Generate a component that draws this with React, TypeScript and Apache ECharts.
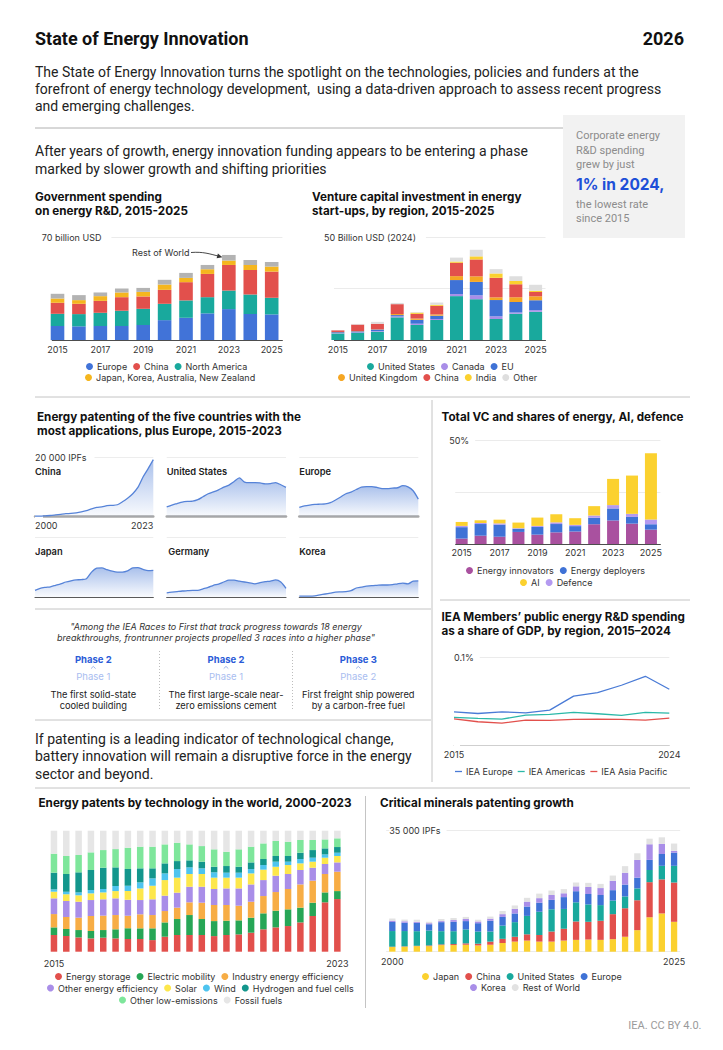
import React, { useEffect, useRef } from 'react';
import * as echarts from 'echarts';

const FONT = "Inter, 'Noto Sans', sans-serif";
const BODY = "Roboto, 'Noto Sans', sans-serif";

// ---------- Government spending on energy R&D (billion USD) ----------
const govYears = ['2015', '2016', '2017', '2018', '2019', '2020', '2021', '2022', '2023', '2024', '2025'];
const govEurope = [9.5, 9.3, 9.5, 9.5, 10.2, 13.5, 15.1, 18.1, 21.0, 17.6, 17.4];
const govNorthAmerica = [8.3, 8.3, 9.0, 10.4, 11.0, 11.1, 11.8, 11.0, 12.6, 13.3, 11.3];
const govChina = [7.5, 7.0, 8.1, 9.2, 8.4, 9.5, 12.4, 15.8, 17.4, 16.7, 17.8];
const govJapanKorea = [2.9, 2.5, 3.2, 3.2, 3.1, 3.6, 2.9, 3.2, 3.0, 3.4, 3.4];
const govRestOfWorld = [3.2, 3.4, 2.5, 2.7, 2.7, 3.2, 3.4, 2.9, 3.8, 3.4, 3.1];

// ---------- Venture capital in energy start-ups (billion USD 2024) ----------
const vcYears = ['2015', '2016', '2017', '2018', '2019', '2020', '2021', '2022', '2023', '2024', '2025'];
const vcUS = [3.2, 3.5, 4.0, 11.0, 7.3, 9.7, 21.3, 19.8, 10.2, 12.7, 13.7];
const vcCanada = [0.2, 0.2, 0.3, 0.5, 0.6, 0.5, 1.0, 1.9, 1.3, 0.6, 0.8];
const vcEU = [0.4, 0.5, 0.8, 0.6, 1.9, 1.6, 6.8, 6.5, 7.9, 5.2, 4.8];
const vcUK = [0.1, 0.1, 0.1, 0.5, 0.6, 0.6, 1.9, 2.7, 1.3, 2.3, 1.9];
const vcChina = [0.8, 3.2, 2.7, 4.8, 2.3, 4.2, 6.5, 8.2, 9.5, 6.3, 2.1];
const vcIndia = [0, 0, 0, 0, 0.6, 0.5, 0.6, 1.5, 2.1, 1.6, 0.6];
const vcOther = [0.1, 0.3, 0.9, 0.6, 0.3, 1.1, 1.9, 3.2, 2.1, 2.3, 2.9];

// ---------- Energy patenting small multiples (thousand IPFs) ----------
const patYears = ['2000', '2001', '2002', '2003', '2004', '2005', '2006', '2007', '2008', '2009', '2010', '2011', '2012', '2013', '2014', '2015', '2016', '2017', '2018', '2019', '2020', '2021', '2022', '2023'];
const patChina = [0.2, 0.2, 0.3, 0.4, 0.6, 0.8, 1.0, 1.1, 1.3, 1.6, 2.0, 2.6, 3.1, 3.3, 3.7, 3.8, 4.0, 5.0, 6.2, 7.7, 9.8, 13.3, 16.1, 19.1];
const patUS = [3.3, 3.9, 4.4, 4.9, 5.1, 5.2, 5.7, 6.7, 7.7, 8.3, 9.0, 9.9, 10.6, 11.8, 13.0, 11.6, 11.4, 11.4, 11.3, 11.0, 11.1, 11.4, 10.7, 9.8];
const patEurope = [3.1, 3.6, 3.9, 4.1, 4.2, 4.3, 4.7, 5.6, 6.6, 7.7, 8.2, 9.1, 9.9, 10.1, 10.1, 9.8, 9.4, 9.4, 9.6, 9.7, 10.4, 10.0, 8.7, 5.9];
const patJapan = [2.2, 2.9, 3.2, 3.4, 3.9, 4.4, 5.0, 5.4, 5.7, 5.8, 6.1, 8.3, 9.6, 9.7, 9.1, 8.6, 8.3, 8.3, 8.7, 9.7, 9.8, 9.2, 8.8, 8.9];
const patGermany = [1.4, 1.6, 1.8, 2.0, 2.1, 2.2, 2.2, 2.7, 3.2, 3.9, 4.3, 5.0, 5.6, 5.6, 5.3, 5.0, 4.7, 4.4, 4.8, 5.1, 5.3, 5.7, 5.0, 2.9];
const patKorea = [0.3, 0.3, 0.3, 0.4, 0.7, 1.0, 1.3, 1.6, 1.7, 1.8, 2.1, 3.0, 3.3, 3.6, 3.8, 3.9, 4.0, 4.0, 4.1, 4.4, 4.6, 4.4, 5.3, 5.4];
const patPanelNames = ['China', 'United States', 'Europe', 'Japan', 'Germany', 'Korea'];

// ---------- Total VC shares (%) ----------
const shareYears = ['2015', '2016', '2017', '2018', '2019', '2020', '2021', '2022', '2023', '2024', '2025'];
const shareInnovators = [2.6, 4.0, 3.5, 5.8, 4.5, 5.6, 6.0, 9.5, 11.3, 9.8, 6.9];
const shareDeployers = [5.5, 5.6, 5.8, 1.5, 3.7, 4.0, 2.6, 3.1, 5.8, 3.2, 2.6];
const shareDefence = [0.6, 0.5, 0.6, 0.3, 0.5, 0.8, 0.6, 1.1, 1.6, 1.5, 2.3];
const shareAI = [1.9, 1.3, 1.8, 2.7, 4.0, 3.9, 3.2, 4.5, 12.6, 18.4, 31.8];

// ---------- Public energy R&D as share of GDP (%) ----------
const gdpYears = ['2015', '2016', '2017', '2018', '2019', '2020', '2021', '2022', '2023', '2024'];
const gdpEurope = [0.0377, 0.0358, 0.0377, 0.0366, 0.0396, 0.0555, 0.0596, 0.0679, 0.0781, 0.0634];
const gdpAmericas = [0.0313, 0.0302, 0.0294, 0.034, 0.0347, 0.037, 0.0355, 0.0336, 0.037, 0.0362];
const gdpAsiaPacific = [0.0298, 0.0264, 0.0249, 0.0283, 0.0279, 0.0291, 0.0294, 0.0291, 0.0283, 0.0306];

// ---------- Energy patents by technology (share, %) ----------
const techYears = ['2000', '2001', '2002', '2003', '2004', '2005', '2006', '2007', '2008', '2009', '2010', '2011', '2012', '2013', '2014', '2015', '2016', '2017', '2018', '2019', '2020', '2021', '2022', '2023'];
const techEndLabels = ['2015', '2023'];
const techStorage = [13.8, 12.9, 11.8, 11.0, 11.6, 11.0, 10.5, 10.5, 9.6, 12.4, 13.8, 13.8, 13.8, 12.9, 13.8, 14.3, 15.7, 18.5, 20.1, 21.2, 24.2, 29.5, 40.8, 43.5];
const techMobility = [6.3, 5.8, 6.1, 6.1, 6.3, 7.5, 8.8, 8.8, 9.7, 11.8, 13.2, 16.5, 13.2, 12.4, 11.8, 11.6, 12.4, 13.2, 13.8, 13.8, 12.2, 11.0, 8.2, 6.6];
const techIndustry = [11.0, 10.0, 10.2, 12.4, 11.9, 11.8, 10.5, 11.6, 11.0, 9.4, 9.4, 10.5, 13.5, 13.3, 13.0, 12.1, 13.2, 14.3, 15.4, 16.8, 19.2, 18.2, 15.2, 16.0];
const techOtherEff = [13.0, 13.2, 13.2, 13.2, 13.5, 13.8, 13.2, 11.8, 13.0, 12.7, 12.4, 12.9, 13.2, 13.2, 13.7, 14.3, 14.3, 13.2, 13.5, 12.4, 11.9, 10.7, 8.3, 7.7];
const techSolar = [5.5, 5.5, 5.3, 5.5, 5.7, 6.0, 7.1, 9.6, 11.2, 12.9, 12.4, 10.5, 10.5, 9.4, 8.9, 8.9, 9.1, 8.6, 7.4, 7.4, 5.5, 5.0, 5.2, 5.3];
const techWind = [1.9, 2.2, 2.4, 2.8, 2.8, 4.2, 4.4, 5.0, 6.1, 5.5, 7.1, 5.5, 4.7, 4.4, 4.1, 4.1, 3.6, 3.8, 4.2, 2.8, 3.6, 3.3, 2.7, 2.7];
const techHydrogen = [13.8, 14.6, 16.6, 16.5, 17.6, 15.4, 13.8, 11.6, 8.3, 8.3, 6.6, 5.8, 5.5, 4.6, 5.5, 4.9, 5.5, 5.0, 4.7, 4.7, 5.2, 6.3, 5.0, 4.7];
const techOtherLow = [15.7, 14.9, 14.3, 14.6, 14.6, 15.1, 17.7, 17.9, 17.9, 15.7, 15.2, 13.2, 12.9, 14.4, 11.8, 14.4, 13.0, 12.9, 12.4, 11.8, 10.5, 8.3, 7.4, 7.2];
const techFossil = [19.0, 20.9, 20.1, 17.9, 16.0, 15.2, 14.0, 13.2, 13.2, 11.3, 9.9, 11.3, 12.7, 15.4, 17.4, 15.4, 13.2, 10.5, 8.5, 9.1, 7.7, 7.7, 7.2, 6.3];

// ---------- Critical minerals patenting (thousand IPFs) ----------
const minYears = ['2000', '2001', '2002', '2003', '2004', '2005', '2006', '2007', '2008', '2009', '2010', '2011', '2012', '2013', '2014', '2015', '2016', '2017', '2018', '2019', '2020', '2021', '2022', '2023'];
const minEndLabels = ['2000', '2025'];
const minJapan = [1.34, 1.44, 1.6, 1.6, 1.9, 1.9, 2.0, 1.8, 2.0, 2.5, 2.9, 3.2, 2.9, 2.9, 3.2, 3.4, 3.5, 3.4, 3.6, 4.3, 6.2, 9.9, 11.0, 8.6];
const minChina = [0.1, 0.1, 0.1, 0.2, 0.2, 0.3, 0.4, 0.5, 0.9, 1.2, 1.4, 1.8, 1.9, 2.9, 3.4, 5.3, 5.1, 5.5, 7.2, 8.2, 8.6, 10.1, 9.8, 11.3];
const minUS = [4.5, 4.4, 4.2, 4.3, 3.8, 3.7, 4.0, 3.5, 2.9, 3.8, 4.2, 5.3, 6.7, 6.4, 5.7, 5.5, 5.0, 4.5, 3.9, 3.4, 3.4, 3.5, 3.9, 4.8];
const minEurope = [2.6, 2.4, 2.4, 1.8, 2.6, 2.7, 2.4, 2.4, 3.1, 2.5, 2.5, 2.7, 2.6, 2.7, 3.4, 3.2, 3.0, 2.9, 3.0, 3.4, 3.1, 2.9, 3.4, 3.8];
const minKorea = [0.4, 0.4, 0.3, 0.3, 0.3, 0.5, 0.6, 0.5, 0.6, 0.8, 1.3, 1.4, 1.3, 1.4, 1.1, 1.4, 2.0, 2.0, 2.7, 3.4, 5.1, 4.5, 2.9, 0.5];
const minRest = [0.6, 0.5, 0.6, 0.4, 0.6, 0.6, 0.6, 0.5, 0.6, 0.9, 1.0, 1.1, 1.3, 1.3, 1.2, 1.1, 1.2, 1.2, 1.5, 1.9, 1.9, 1.6, 1.9, 2.1];

// ---------- Texts ----------
const introLines = [
  'The State of Energy Innovation turns the spotlight on the technologies, policies and funders at the',
  'forefront of energy technology development,  using a data-driven approach to assess recent progress',
  'and emerging challenges.',
];
const fundingLines = [
  'After years of growth, energy innovation funding appears to be entering a phase',
  'marked by slower growth and shifting priorities',
];
const batteryLines = [
  'If patenting is a leading indicator of technological change,',
  'battery innovation will remain a disruptive force in the energy',
  'sector and beyond.',
];
const quoteLines = [
  '"Among the IEA Races to First that track progress towards 18 energy',
  'breakthroughs, frontrunner projects propelled 3 races into a higher phase"',
];
const phases = [
  { now: 'Phase 2', prev: 'Phase 1', desc: ['The first solid-state', 'cooled building'] },
  { now: 'Phase 2', prev: 'Phase 1', desc: ['The first large-scale near-', 'zero emissions cement'] },
  { now: 'Phase 3', prev: 'Phase 2', desc: ['First freight ship powered', 'by a carbon-free fuel'] },
];

const C = {
  blue: '#3f72d6',
  red: '#e2504c',
  teal: '#19a99d',
  gold: '#f5b61e',
  gray: '#b3b3b3',
  purple: '#a98ee8',
  orange: '#f5a623',
  yellow: '#fbd12f',
  light: '#dedede',
  magenta: '#a9519f',
  lavender: '#b49af0',
};

function T(x: number, y: number, text: string, font: string, fill = '#222', align = 'left') {
  return {
    type: 'text', x, y, silent: true,
    style: { text, font, fill, textAlign: align, align, textVerticalAlign: 'middle', verticalAlign: 'middle' },
  };
}
function L(x1: number, y1: number, x2: number, y2: number, stroke = '#c4c4c4', lineWidth = 1, lineDash?: number[]) {
  return { type: 'line', silent: true, shape: { x1, y1, x2, y2 }, style: { stroke, lineWidth, lineDash } };
}

function legend(left: number, top: number, items: { name: string; color: string }[], extra: any = {}) {
  return {
    left, top, orient: 'horizontal', icon: 'circle', itemWidth: 7, itemHeight: 7, itemGap: 6, padding: 0,
    selectedMode: false,
    textStyle: { fontSize: 9, color: '#333', fontFamily: FONT, padding: [0, 0, 0, -1] },
    data: items.map((it) => ({ name: it.name, itemStyle: { color: it.color } })),
    ...extra,
  };
}

function bar(name: string, data: number[], color: string, idx: number, stack: string, barWidth: number) {
  return { type: 'bar', name, data, stack, xAxisIndex: idx, yAxisIndex: idx, barWidth, itemStyle: { color }, emphasis: { disabled: true } };
}

const tickLabel = { fontSize: 9, color: '#333', fontFamily: FONT };

function buildOption() {
  const grids = [
    { left: 46.8, top: 237, width: 235.6, height: 103 },
    { left: 328, top: 237, width: 217.5, height: 103 },
    { left: 35, top: 457, width: 118.3, height: 59.7 },
    { left: 166.7, top: 457, width: 119.3, height: 59.7 },
    { left: 299.3, top: 457, width: 119, height: 59.7 },
    { left: 35, top: 537, width: 118.3, height: 60 },
    { left: 166.7, top: 537, width: 119.3, height: 60 },
    { left: 299.3, top: 537, width: 119, height: 60 },
    { left: 452.2, top: 440, width: 208.2, height: 104 },
    { left: 454, top: 657, width: 215.3, height: 88 },
    { left: 47.8, top: 830.7, width: 295.7, height: 121 },
    { left: 386.2, top: 830, width: 294, height: 121.7 },
  ];

  const xAxis: any[] = [];
  const yAxis: any[] = [];

  // 0 gov
  xAxis.push({ gridIndex: 0, type: 'category', data: govYears, axisTick: { show: false }, axisLine: { lineStyle: { color: '#4d4d4d' } }, axisLabel: { ...tickLabel, interval: 1, margin: 5 } });
  yAxis.push({ gridIndex: 0, type: 'value', min: 0, max: 70, interval: 70, axisLine: { show: false }, axisTick: { show: false }, splitLine: { lineStyle: { color: '#ebebeb' } },
    axisLabel: { inside: true, margin: -5, color: '#333', fontSize: 9, fontFamily: FONT, backgroundColor: '#fff', padding: [2, 10, 2, 0], formatter: (v: number) => (v === 70 ? '70 billion USD' : '') } });
  // 1 vc
  xAxis.push({ gridIndex: 1, type: 'category', data: vcYears, axisTick: { show: false }, axisLine: { lineStyle: { color: '#4d4d4d' } }, axisLabel: { ...tickLabel, interval: 1, margin: 5 } });
  yAxis.push({ gridIndex: 1, type: 'value', min: 0, max: 50, interval: 25, axisLine: { show: false }, axisTick: { show: false }, splitLine: { lineStyle: { color: '#ebebeb' } },
    axisLabel: { inside: true, margin: -4, color: '#333', fontSize: 9, fontFamily: FONT, backgroundColor: '#fff', padding: [2, 10, 2, 0], formatter: (v: number) => (v === 50 ? '50 Billion USD (2024)' : '') } });
  // 2-7 patent panels
  for (let i = 0; i < 6; i++) {
    const gi = 2 + i;
    const row1 = i < 3;
    xAxis.push({
      gridIndex: gi, type: 'category', boundaryGap: false, data: patYears, axisTick: { show: false },
      axisLine: { lineStyle: { color: row1 ? '#a8a8a8' : '#5a5a5a', width: row1 ? 2.5 : 1.2 } },
      axisLabel: i === 0
        ? { ...tickLabel, margin: 4, interval: (idx: number) => idx === 0 || idx === patYears.length - 1, alignMinLabel: 'left', alignMaxLabel: 'right' }
        : { show: false },
    });
    yAxis.push({
      gridIndex: gi, type: 'value', min: 0, max: 20, interval: 20, axisLine: { show: false }, axisTick: { show: false },
      splitLine: { lineStyle: { color: '#ededed' } },
      axisLabel: i === 0
        ? { inside: true, margin: 0, color: '#333', fontSize: 9, fontFamily: FONT, backgroundColor: '#fff', padding: [2, 8, 2, 0], formatter: (v: number) => (v === 20 ? '20 000 IPFs' : '') }
        : { show: false },
    });
  }
  // 8 total VC shares
  xAxis.push({ gridIndex: 8, type: 'category', data: shareYears, axisTick: { show: false }, axisLine: { lineStyle: { color: '#4d4d4d' } }, axisLabel: { ...tickLabel, interval: 1, margin: 4 } });
  yAxis.push({ gridIndex: 8, type: 'value', min: 0, max: 50, interval: 25, axisLine: { show: false }, axisTick: { show: false }, splitLine: { lineStyle: { color: '#ebebeb' } },
    axisLabel: { inside: true, margin: -3, color: '#333', fontSize: 9, fontFamily: FONT, backgroundColor: '#fff', padding: [2, 6, 2, 0], formatter: (v: number) => (v === 50 ? '50%' : '') } });
  // 9 gdp
  xAxis.push({ gridIndex: 9, type: 'category', boundaryGap: false, data: gdpYears, axisTick: { show: false }, axisLine: { lineStyle: { color: '#cfcfcf' } },
    axisLabel: { ...tickLabel, margin: 5, interval: (idx: number) => idx === 0 || idx === gdpYears.length - 1 } });
  yAxis.push({ gridIndex: 9, type: 'value', min: 0, max: 0.1, interval: 0.1, axisLine: { show: false }, axisTick: { show: false }, splitLine: { lineStyle: { color: '#ebebeb' } },
    axisLabel: { inside: true, margin: 0, color: '#333', fontSize: 9, fontFamily: FONT, backgroundColor: '#fff', padding: [2, 6, 2, 0], formatter: (v: number) => (v > 0.09 ? '0.1%' : '') } });
  // 10 tech
  xAxis.push({ gridIndex: 10, type: 'category', data: techYears, axisTick: { show: false }, axisLine: { show: false },
    axisLabel: { ...tickLabel, margin: 7, interval: (idx: number) => idx === 0 || idx === techYears.length - 1, formatter: (_v: string, idx: number) => (idx === 0 ? techEndLabels[0] : techEndLabels[1]) } });
  yAxis.push({ gridIndex: 10, type: 'value', min: 0, max: 100, axisLine: { show: false }, axisTick: { show: false }, splitLine: { show: false }, axisLabel: { show: false } });
  // 11 minerals
  xAxis.push({ gridIndex: 11, type: 'category', data: minYears, axisTick: { show: false }, axisLine: { show: false },
    axisLabel: { ...tickLabel, margin: 5, interval: (idx: number) => idx === 0 || idx === minYears.length - 1, formatter: (_v: string, idx: number) => (idx === 0 ? minEndLabels[0] : minEndLabels[1]) } });
  yAxis.push({ gridIndex: 11, type: 'value', min: 0, max: 35, interval: 35, axisLine: { show: false }, axisTick: { show: false }, splitLine: { lineStyle: { color: '#ebebeb' } },
    axisLabel: { inside: true, margin: 3, color: '#333', fontSize: 9, fontFamily: FONT, backgroundColor: '#fff', padding: [2, 6, 2, 0], formatter: (v: number) => (v === 35 ? '35 000 IPFs' : '') } });

  const series: any[] = [];
  // gov
  series.push(bar('Europe', govEurope, '#4173d8', 0, 'gov', 13.6));
  series.push(bar('North America', govNorthAmerica, C.teal, 0, 'gov', 13.6));
  series.push(bar('China', govChina, C.red, 0, 'gov', 13.6));
  series.push(bar('Japan, Korea, Australia, New Zealand', govJapanKorea, C.gold, 0, 'gov', 13.6));
  series.push(bar('Rest of World', govRestOfWorld, C.gray, 0, 'gov', 13.6));
  // vc
  series.push(bar('United States', vcUS, C.teal, 1, 'vc', 13));
  series.push(bar('Canada', vcCanada, C.purple, 1, 'vc', 13));
  series.push(bar('EU', vcEU, C.blue, 1, 'vc', 13));
  series.push(bar('United Kingdom', vcUK, C.orange, 1, 'vc', 13));
  series.push(bar('China', vcChina, C.red, 1, 'vc', 13));
  series.push(bar('India', vcIndia, C.yellow, 1, 'vc', 13));
  series.push(bar('Other', vcOther, C.light, 1, 'vc', 13));
  // patents
  const patData = [patChina, patUS, patEurope, patJapan, patGermany, patKorea];
  patData.forEach((d, i) => {
    series.push({
      type: 'line', name: patPanelNames[i] + ' IPFs', data: d, xAxisIndex: 2 + i, yAxisIndex: 2 + i,
      symbol: 'none', smooth: 0.25, lineStyle: { color: '#5683d8', width: 1.3 },
      areaStyle: {
        color: new echarts.graphic.LinearGradient(0, 0, 0, 1, [
          { offset: 0, color: 'rgba(86,131,216,0.72)' },
          { offset: 1, color: 'rgba(86,131,216,0.05)' },
        ]),
      },
      emphasis: { disabled: true },
    });
  });
  // shares
  series.push(bar('Energy innovators', shareInnovators, C.magenta, 8, 'share', 12));
  series.push(bar('Energy deployers', shareDeployers, C.blue, 8, 'share', 12));
  series.push(bar('Defence', shareDefence, C.lavender, 8, 'share', 12));
  series.push(bar('AI', shareAI, C.yellow, 8, 'share', 12));
  // gdp
  const gdpLine = (name: string, data: number[], color: string) => ({
    type: 'line', name, data, xAxisIndex: 9, yAxisIndex: 9, symbol: 'none', lineStyle: { color, width: 1.3 }, itemStyle: { color }, emphasis: { disabled: true },
  });
  series.push(gdpLine('IEA Europe', gdpEurope, '#4a7bd6'));
  series.push(gdpLine('IEA Americas', gdpAmericas, '#2bb8a8'));
  series.push(gdpLine('IEA Asia Pacific', gdpAsiaPacific, C.red));
  // tech
  const techSeries = [
    ['Energy storage', techStorage, C.red],
    ['Electric mobility', techMobility, '#27a656'],
    ['Industry energy efficiency', techIndustry, '#f7ad45'],
    ['Other energy efficiency', techOtherEff, C.purple],
    ['Solar', techSolar, '#fde74c'],
    ['Wind', techWind, '#4ec4ef'],
    ['Hydrogen and fuel cells', techHydrogen, '#13968c'],
    ['Other low-emissions', techOtherLow, '#7ee69b'],
    ['Fossil fuels', techFossil, '#e6e6e6'],
  ] as [string, number[], string][];
  techSeries.forEach(([n, d, c]) => series.push(bar(n, d, c, 10, 'tech', 6.5)));
  // minerals
  const minSeries = [
    ['Japan', minJapan, C.yellow],
    ['China', minChina, C.red],
    ['United States', minUS, C.teal],
    ['Europe', minEurope, C.blue],
    ['Korea', minKorea, C.purple],
    ['Rest of World', minRest, '#e2e2e2'],
  ] as [string, number[], string][];
  minSeries.forEach(([n, d, c]) => series.push(bar(n, d, c, 11, 'min', 6.3)));

  const legends = [
    legend(86, 362, [{ name: 'Europe', color: '#4173d8' }, { name: 'China', color: C.red }, { name: 'North America', color: C.teal }]),
    legend(85, 373, [{ name: 'Japan, Korea, Australia, New Zealand', color: C.gold }]),
    legend(367, 362, [{ name: 'United States', color: C.teal }, { name: 'Canada', color: C.purple }, { name: 'EU', color: C.blue }]),
    legend(338, 373, [{ name: 'United Kingdom', color: C.orange }, { name: 'China', color: C.red }, { name: 'India', color: C.yellow }, { name: 'Other', color: C.light }]),
    legend(466, 566, [{ name: 'Energy innovators', color: C.magenta }, { name: 'Energy deployers', color: C.blue }]),
    legend(520, 578, [{ name: 'AI', color: C.yellow }, { name: 'Defence', color: C.lavender }]),
    legend(455, 767, [{ name: 'IEA Europe', color: '#4a7bd6' }, { name: 'IEA Americas', color: '#2bb8a8' }, { name: 'IEA Asia Pacific', color: C.red }],
      { icon: 'rect', itemWidth: 7, itemHeight: 1.3, itemGap: 5 }),
    legend(55, 972, techSeries.slice(0, 3).map(([n, , c]) => ({ name: n, color: c }))),
    legend(47, 983.5, techSeries.slice(3, 7).map(([n, , c]) => ({ name: n, color: c }))),
    legend(119, 995.5, techSeries.slice(7).map(([n, , c]) => ({ name: n, color: c }))),
    legend(422, 972, minSeries.slice(0, 4).map(([n, , c]) => ({ name: n, color: c }))),
    legend(470, 983, minSeries.slice(4).map(([n, , c]) => ({ name: n, color: c }))),
  ];

  const TITLE = 'bold 11.7px ' + FONT;
  const g: any[] = [];
  // header
  g.push(T(35, 38, 'State of Energy Innovation', 'bold 18px ' + BODY, '#111'));
  g.push(T(684, 38, '2026', 'bold 18px ' + BODY, '#111', 'right'));
  introLines.forEach((s, i) => g.push(T(35, 72 + i * 17, s, '14px ' + BODY, '#222')));
  g.push(L(35, 128, 563, 128, '#b0b0b0'));
  g.push({ type: 'rect', silent: true, shape: { x: 563, y: 115, width: 122, height: 123 }, style: { fill: '#f2f2f2' } });
  g.push(T(576, 135.5, 'Corporate energy', '11px ' + BODY, '#8c8c8c'));
  g.push(T(576, 150, 'R&D spending', '11px ' + BODY, '#8c8c8c'));
  g.push(T(576, 164, 'grew by just', '11px ' + BODY, '#8c8c8c'));
  g.push(T(576, 184.5, '1% in 2024,', 'bold 15.5px ' + FONT, '#1d4fd8'));
  g.push(T(576, 204.5, 'the lowest rate', '11px ' + BODY, '#8c8c8c'));
  g.push(T(576, 218.5, 'since 2015', '11px ' + BODY, '#8c8c8c'));
  fundingLines.forEach((s, i) => g.push(T(35, 151 + i * 18, s, '14px ' + BODY, '#222')));

  // gov chart
  g.push(T(35, 197.3, 'Government spending', TITLE, '#111'));
  g.push(T(35, 210.5, 'on energy R&D, 2015-2025', TITLE, '#111'));
  g.push(T(189.5, 252.5, 'Rest of World', '9px ' + FONT, '#333', 'right'));
  g.push({ type: 'bezierCurve', silent: true, shape: { x1: 191, y1: 252.5, cpx1: 203, cpy1: 251.5, cpx2: 210, cpy2: 254, x2: 218, y2: 256 }, style: { stroke: '#333', lineWidth: 0.9, fill: null } });
  g.push({ type: 'polygon', silent: true, shape: { points: [[222.5, 257.3], [216.6, 258.2], [217.9, 253.6]] }, style: { fill: '#333' } });
  // vc chart
  g.push(T(312, 197.3, 'Venture capital investment in energy', TITLE, '#111'));
  g.push(T(312, 210.5, 'start-ups, by region, 2015-2025', TITLE, '#111'));

  // separators
  g.push(L(35, 397, 690, 397, '#c4c4c4'));
  g.push(L(432, 400, 432, 782, '#c4c4c4'));
  g.push(L(35, 609, 431, 609, '#c4c4c4'));
  g.push(L(35, 720, 431, 720, '#c4c4c4'));
  g.push(L(440, 600, 690, 600, '#c4c4c4'));
  g.push(L(35, 788, 690, 788, '#c4c4c4'));
  g.push(L(365.5, 796, 365.5, 1008, '#c4c4c4'));

  // patenting
  g.push(T(37, 417.3, 'Energy patenting of the five countries with the', TITLE, '#111'));
  g.push(T(37, 430.5, 'most applications, plus Europe, 2015-2023', TITLE, '#111'));
  const panelPos = [[35, 471.7], [166.7, 471.7], [299.3, 471.7], [35, 551.7], [168.3, 551.7], [299.3, 551.7]];
  patPanelNames.forEach((n, i) => g.push(T(panelPos[i][0], panelPos[i][1], n, '600 9.3px ' + FONT, '#222')));

  // total VC
  g.push(T(441.5, 417.3, 'Total VC and shares of energy, AI, defence', TITLE, '#111'));

  // phases
  quoteLines.forEach((s, i) => g.push(T(216, 626.7 + i * 11, s, 'italic 9px ' + FONT, '#333', 'center')));
  const phaseX = [93.3, 226, 358.3];
  phases.forEach((p, i) => {
    const x = phaseX[i];
    g.push(T(x, 659.5, p.now, 'bold 9.5px ' + FONT, '#2a5bd7', 'center'));
    g.push({ type: 'polyline', silent: true, shape: { points: [[x - 2.3, 668.6], [x, 666.4], [x + 2.3, 668.6]] }, style: { stroke: '#98afe8', lineWidth: 0.9, fill: null } });
    g.push(T(x, 676, p.prev, '9.5px ' + FONT, '#a9bdf0', 'center'));
    p.desc.forEach((d, j) => g.push(T(x, 694.3 + j * 11, d, '9.3px ' + FONT, '#222', 'center')));
  });
  g.push(L(159.5, 651, 159.5, 711, '#bdbdbd', 1, [1, 2]));
  g.push(L(292.5, 651, 292.5, 711, '#bdbdbd', 1, [1, 2]));
  batteryLines.forEach((s, i) => g.push(T(35, 738.5 + i * 17.5, s, '14px ' + BODY, '#222')));

  // gdp
  g.push(T(441.5, 617.3, 'IEA Members’ public energy R&D spending', TITLE, '#111'));
  g.push(T(441.5, 630.5, 'as a share of GDP, by region, 2015–2024', TITLE, '#111'));

  // bottom
  g.push(T(38.5, 803.3, 'Energy patents by technology in the world, 2000-2023', TITLE, '#111'));
  g.push(T(380, 803.3, 'Critical minerals patenting growth', TITLE, '#111'));
  g.push(T(701.5, 1025, 'IEA. CC BY 4.0.', '11px ' + BODY, '#9a9a9a', 'right'));

  return {
    animation: false,
    backgroundColor: '#fff',
    textStyle: { fontFamily: FONT },
    grid: grids,
    xAxis,
    yAxis,
    legend: legends,
    series,
    graphic: { elements: g },
  };
}

export default function App() {
  const ref = useRef<HTMLDivElement>(null);
  useEffect(() => {
    if (!ref.current) return;
    const chart = echarts.init(ref.current, null, { renderer: 'svg' });
    chart.setOption(buildOption() as any);
    return () => chart.dispose();
  }, []);
  return <div ref={ref} style={{ position: 'absolute', left: 0, top: 0, width: 723, height: 1050, background: '#fff' }} />;
}
